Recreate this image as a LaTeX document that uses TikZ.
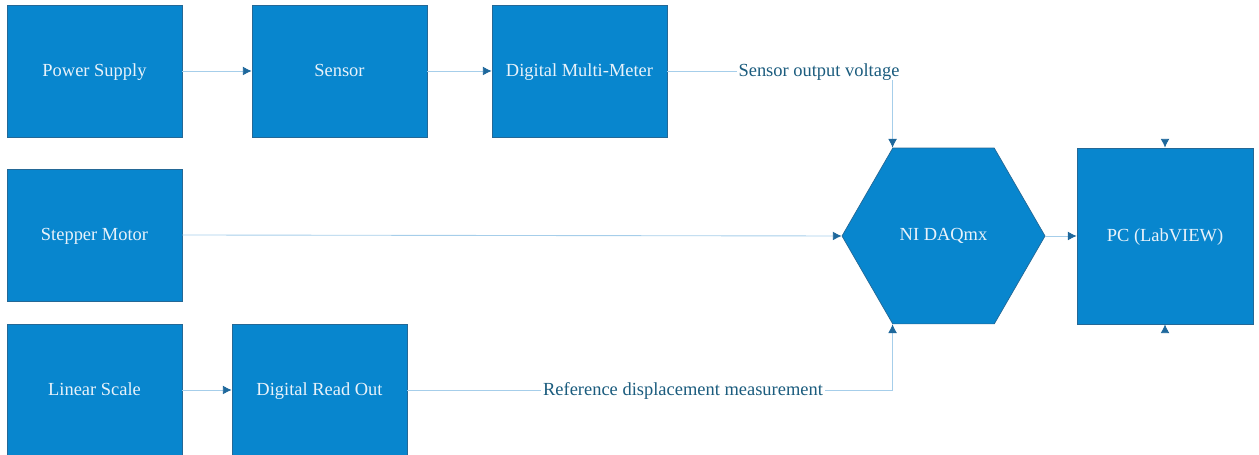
\documentclass[tikz,border=0pt]{standalone}
\usepackage{fontspec}
\setmainfont{Liberation Serif}
\usetikzlibrary{arrows.meta,shapes.geometric}

\definecolor{boxblue}{RGB}{8,134,206}
\definecolor{boxedge}{RGB}{36,104,150}
\definecolor{boxtext}{RGB}{232,242,250}
\definecolor{linkblue}{RGB}{166,206,234}
\definecolor{tipblue}{RGB}{30,104,156}
\definecolor{lbltext}{RGB}{27,92,126}

\tikzset{
  block/.style={draw=boxedge, fill=boxblue, text=boxtext, minimum width=3.5cm, minimum height=2.64cm, inner sep=0pt, text height=1.6ex, text depth=0.3ex, font=\fontsize{10.5}{12}\selectfont},
  hexa/.style={regular polygon, regular polygon sides=6, minimum size=4.06cm, inner sep=0pt, draw=boxedge, fill=boxblue, text=boxtext, font=\fontsize{10.5}{12}\selectfont},
  link/.style={draw=linkblue, line width=0.5pt, -{Latex[length=5pt,width=5pt,color=tipblue]}},
  lbl/.style={fill=white, text=lbltext, inner sep=1pt, text height=1.6ex, text depth=0.3ex, font=\fontsize{10.5}{12}\selectfont}
}

\begin{document}
\begin{tikzpicture}
    \useasboundingbox (0,0) rectangle (25.18,9.10);

    % Top row
    \node[block] (supply) at (1.89, 7.68) {Power Supply};
    \node[block] (sensor) at (6.79, 7.68) {Sensor};
    \node[block] (dmm) at (11.59, 7.68) {Digital Multi-Meter};

    % Middle and bottom rows
    \node[block] (motor) at (1.89, 4.40) {Stepper Motor};
    \node[block] (scale) at (1.89, 1.30) {Linear Scale};
    \node[block] (dro) at (6.39, 1.30) {Digital Read Out};

    % Acquisition
    \node[hexa] (daq) at (18.87, 4.38) {NI DAQmx};
    \node[block, minimum width=3.52cm, minimum height=3.52cm] (pc) at (23.30, 4.38) {PC (LabVIEW)};
    \coordinate (pcin) at (23.30, 6.32);
    \coordinate (pcout) at (23.30, 2.44);

    % Links
    \draw[link] (supply) -- (sensor);
    \draw[link] (sensor) -- (dmm);
    \draw[link] (scale) -- (dro);
    \draw[link] (dmm.east) -| (daq.corner 2);
    \draw[link] (dro.east) -| (daq.corner 4);
    \draw[link] (motor.east) -- (daq.corner 3);
    \draw[link] (daq.corner 6) -- (pc.west);
    \draw[link, draw=white] (pcin) -- (pc.north);
    \draw[link, draw=white] (pcout) -- (pc.south);

    % Labels
    \node[lbl] (volt) at (16.38, 7.68) {Sensor output voltage};
    \node[lbl] (disp) at (13.66, 1.30) {Reference displacement measurement};

\end{tikzpicture}
\end{document}
